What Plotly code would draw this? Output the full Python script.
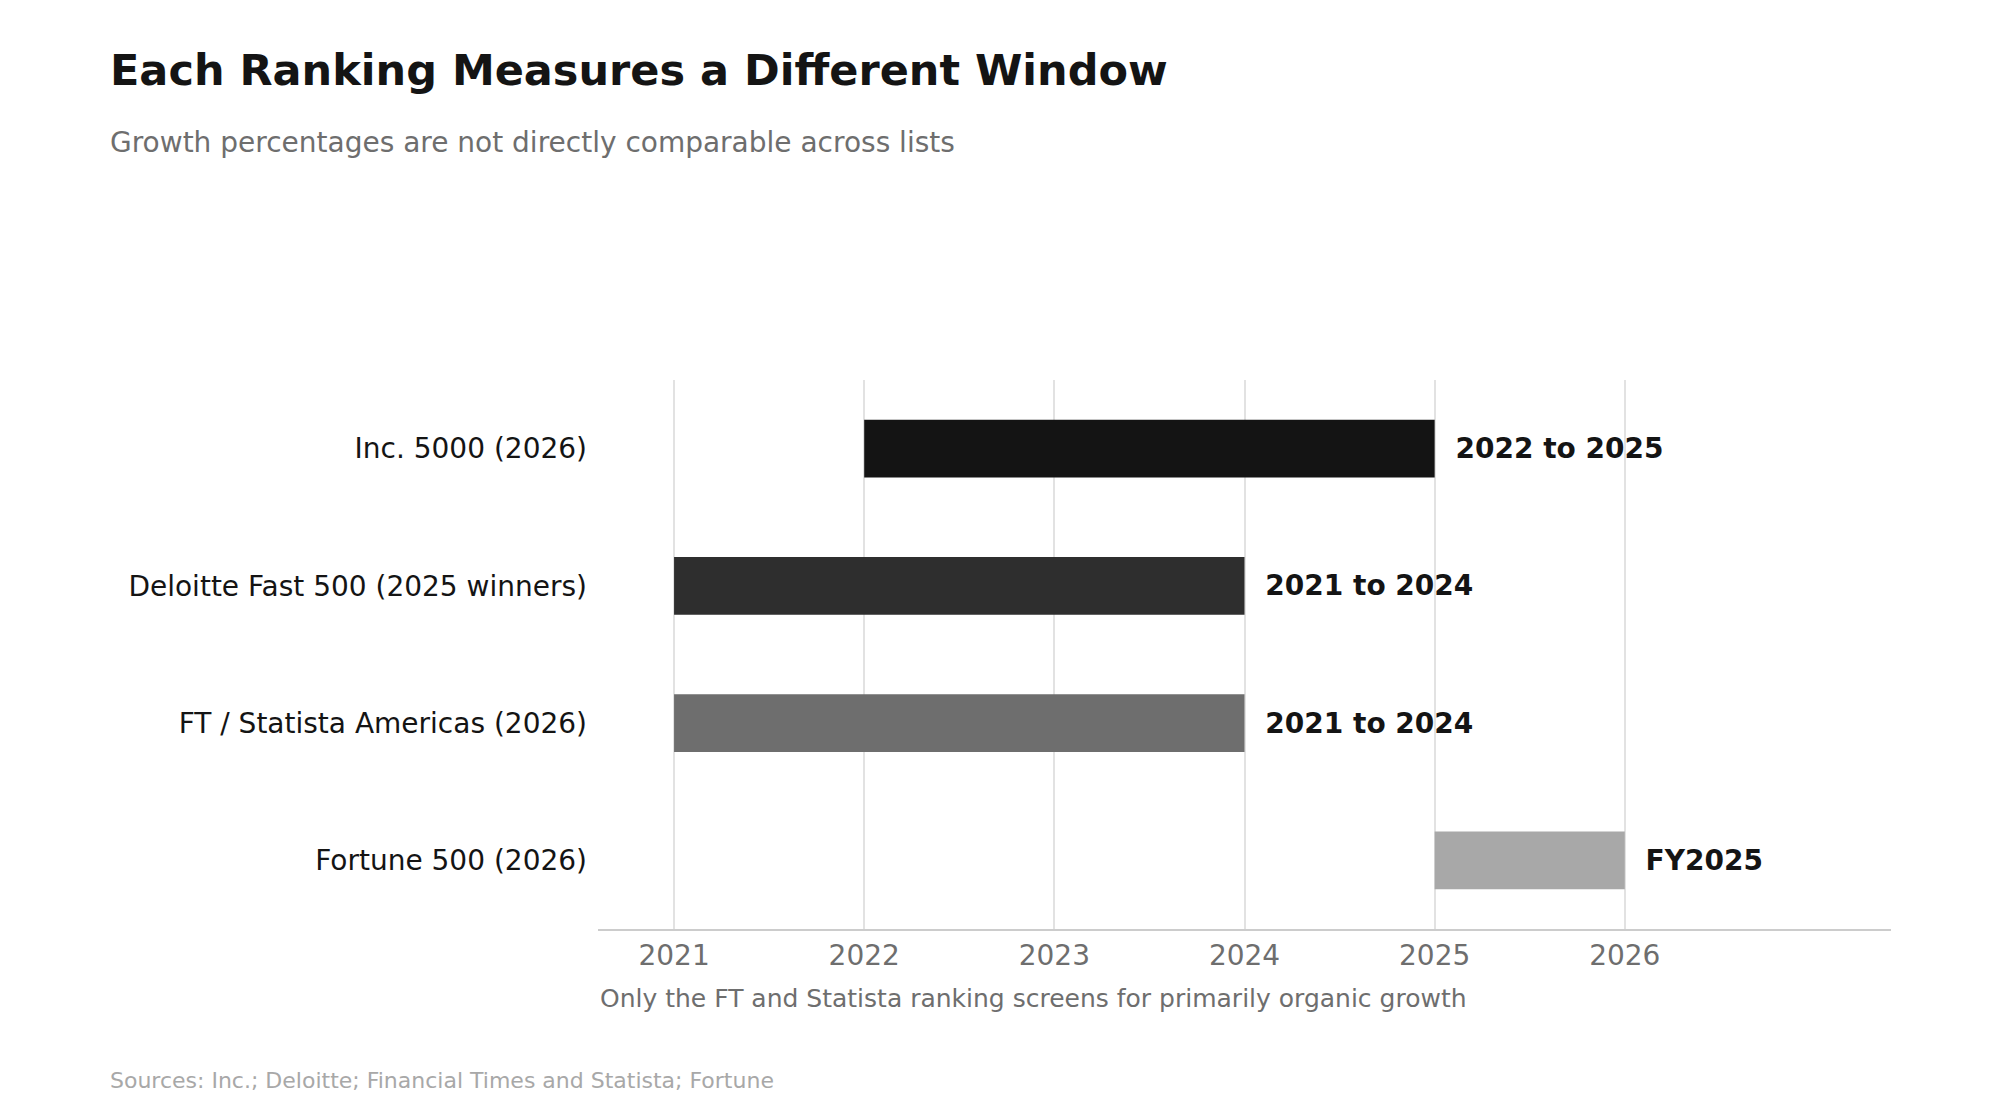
import plotly.graph_objects as go

rankings = ["Inc. 5000 (2026)", "Deloitte Fast 500 (2025 winners)",
            "FT / Statista Americas (2026)", "Fortune 500 (2026)"]
start_year = [2022, 2021, 2021, 2025]
end_year = [2025, 2024, 2024, 2026]
window_labels = ["2022 to 2025", "2021 to 2024", "2021 to 2024", "FY2025"]
bar_colors = ["#141414", "#2e2e2e", "#6e6e6e", "#a8a8a8"]

font = "DejaVu Sans"
ML, MR, MT, MB = 590, 117, 372, 199
W, H = 2000, 1120

fig = go.Figure(go.Bar(
    y=rankings,
    x=[e - s for s, e in zip(start_year, end_year)],
    base=start_year,
    orientation="h",
    marker=dict(color=bar_colors, line=dict(width=0)),
    width=0.42,
    text=["&nbsp;&nbsp;<b>%s</b>" % t for t in window_labels],
    textposition="outside",
    textfont=dict(family=font, size=28, color="#141414"),
    cliponaxis=False,
    hoverinfo="skip",
))

fig.update_layout(
    width=W, height=H,
    margin=dict(l=ML, r=MR, t=MT, b=MB),
    plot_bgcolor="white", paper_bgcolor="white",
    font=dict(family=font),
    showlegend=False,
    xaxis=dict(
        range=[2020.6, 2027.4],
        tickvals=[2021, 2022, 2023, 2024, 2025, 2026],
        tickfont=dict(size=28, color="#6e6e6e"),
        showgrid=True, gridcolor="#e2e2e2", gridwidth=1.5,
        showline=True, linecolor="#cccccc", linewidth=2,
        zeroline=False, ticks="",
    ),
    yaxis=dict(
        categoryorder="array", categoryarray=rankings[::-1],
        tickfont=dict(size=28, color="#141414"),
        showgrid=False, zeroline=False, ticks="",
        ticklabelstandoff=10,
    ),
)

def paper_text(text, x_px, y_px, size, color):
    fig.add_annotation(
        text=text, x=(x_px - ML) / (W - ML - MR), y=(H - MB - y_px) / (H - MT - MB),
        xref="paper", yref="paper", xanchor="left", yanchor="middle",
        showarrow=False, font=dict(family=font, size=size, color=color),
    )

paper_text("<b>Each Ranking Measures a Different Window</b>", 100, 62, 43, "#141414")
paper_text("Growth percentages are not directly comparable across lists", 100, 135, 28, "#6e6e6e")
paper_text("Only the FT and Statista ranking screens for primarily organic growth", ML, 990, 25, "#6e6e6e")
paper_text("Sources: Inc.; Deloitte; Financial Times and Statista; Fortune", 100, 1072, 22, "#a8a8a8")

fig.write_html("out.html")
